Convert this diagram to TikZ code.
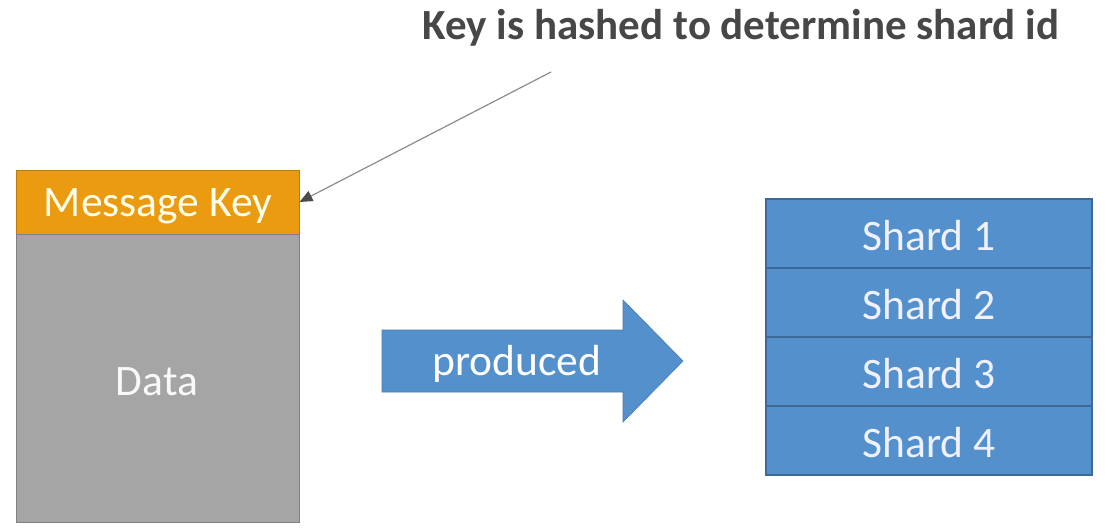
\documentclass[tikz,border=0pt]{standalone}
\usepackage{fontspec}
\setmainfont{Carlito}
\usetikzlibrary{arrows.meta}
\definecolor{keyorange}{RGB}{234,155,15}
\definecolor{datagray}{RGB}{165,165,165}
\definecolor{shardblue}{RGB}{84,145,204}
\definecolor{shardedge}{RGB}{60,105,150}
\definecolor{linegray}{RGB}{140,140,140}
\tikzset{
  bigtext/.style={font=\fontsize{43.5}{43.5}\selectfont},
  box/.style={draw, line width=1pt, minimum width=283pt, inner sep=0pt, text=white},
  shardbox/.style={draw=shardedge, fill=shardblue, line width=1.2pt, minimum width=326pt, minimum height=69pt, inner sep=0pt, text=white!94!blue, bigtext, text depth=0pt, text height=34pt},
  pointer/.style={draw=linegray, line width=1.2pt, -{Triangle[length=13pt,width=11pt,fill=black!70,color=black!70]}}
}
\begin{document}
\begin{tikzpicture}[x=1pt,y=-1pt]
\useasboundingbox (0,0) rectangle (1118,530);
\fill[white] (0,0) rectangle (1118,530);
\node[box, fill=keyorange, draw=keyorange!80!black, minimum height=64pt] (key) at (157.5,202) {};
\node[bigtext, text=white!92!yellow] (keylabel) at (158,206) {Message Key};
\node[box, fill=datagray, draw=black!50, minimum height=288pt] (data) at (157.5,378) {};
\node[bigtext, text=white!95!gray] (datalabel) at (157,382) {Data};
\fill[shardblue, draw=shardblue!85!black, line width=0.6pt] (382,330) -- (623,330) -- (623,300) -- (683,361) -- (623,422) -- (623,392) -- (382,392) -- cycle;
\node[bigtext, text=white] (prodlabel) at (517,364) {produced};
\node[shardbox] (s1) at (929,233.5) {Shard 1};
\node[shardbox] (s2) at (929,302.5) {Shard 2};
\node[shardbox] (s3) at (929,371.5) {Shard 3};
\node[shardbox] (s4) at (929,440.5) {Shard 4};
\node[font=\bfseries\fontsize{43}{43}\selectfont, text=black!72] (title) at (741,28) {Key is hashed to determine shard id};
\coordinate (start) at (551,72);
\draw[pointer] (start) -- (key.east);
\end{tikzpicture}
\end{document}
